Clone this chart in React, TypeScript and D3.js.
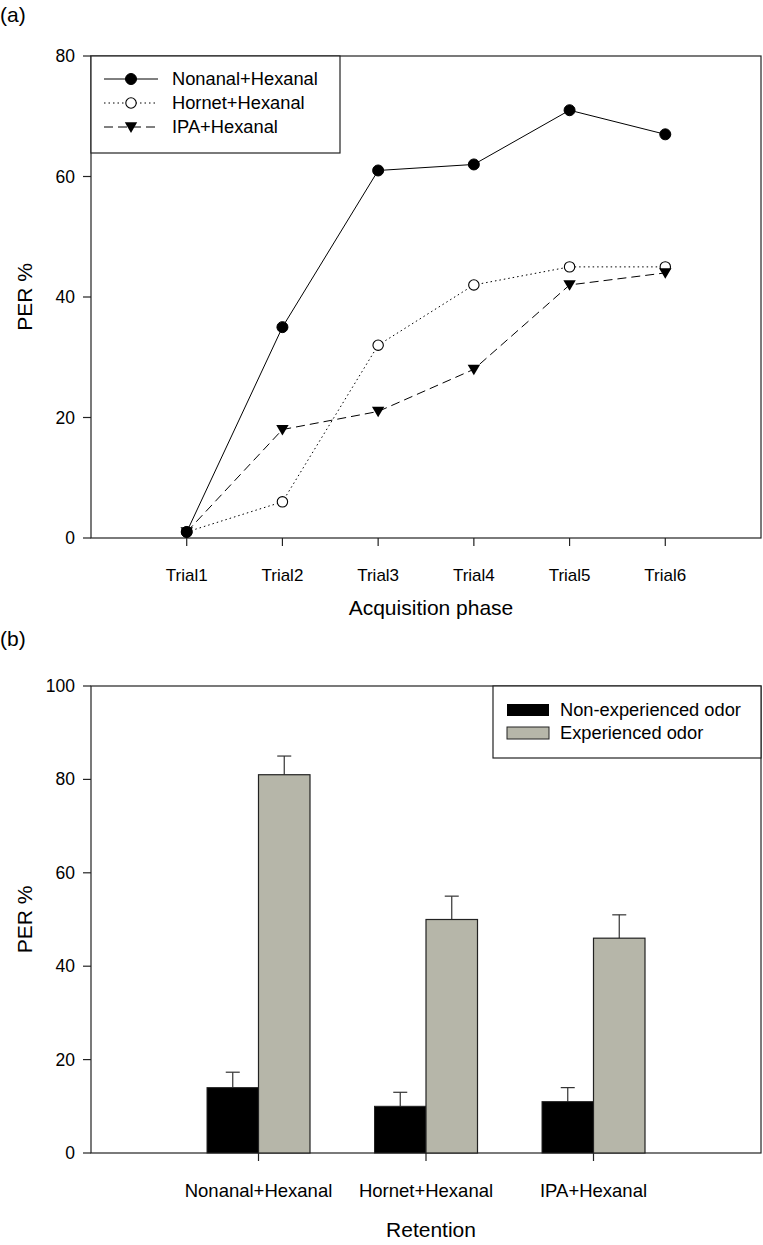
import React from "react";
import * as d3 from "d3";

const trials = ["Trial1", "Trial2", "Trial3", "Trial4", "Trial5", "Trial6"];
const nonanal = [1, 35, 61, 62, 71, 67];
const hornet = [1, 6, 32, 42, 45, 45];
const ipa = [1, 18, 21, 28, 42, 44];
const yTicksA = [0, 20, 40, 60, 80];

const groups = ["Nonanal+Hexanal", "Hornet+Hexanal", "IPA+Hexanal"];
const nonExp = [14, 10, 11];
const nonExpErr = [3.3, 3, 3];
const exp = [81, 50, 46];
const expErr = [4, 5, 5];
const yTicksB = [0, 20, 40, 60, 80, 100];

const FONT = "'Liberation Sans', Arial, Helvetica, sans-serif";
const GRAY = "#b6b6a9";

export default function App() {
  const left = 91;
  const right = 761;
  // Panel a
  const aTop = 56;
  const aBot = 538;
  const xA = d3.scaleLinear().domain([0, 7]).range([left, right]);
  const yA = d3.scaleLinear().domain([0, 80]).range([aBot, aTop]);
  const lineGen = d3
    .line<number>()
    .x((_, i) => xA(i + 1))
    .y((d) => yA(d));

  const series = [
    { name: "Nonanal+Hexanal", data: nonanal, dash: "none", marker: "filled" },
    { name: "Hornet+Hexanal", data: hornet, dash: "1.5,3", marker: "open" },
    { name: "IPA+Hexanal", data: ipa, dash: "9,5", marker: "tri" },
  ];

  const marker = (type: string, cx: number, cy: number, key?: any) => {
    if (type === "filled")
      return <circle key={key} cx={cx} cy={cy} r={5.5} fill="#000" stroke="#000" />;
    if (type === "open")
      return <circle key={key} cx={cx} cy={cy} r={5.2} fill="#fff" stroke="#000" strokeWidth={1.1} />;
    const s = 6.2;
    return (
      <path
        key={key}
        d={`M${cx - s},${cy - s * 0.75} L${cx + s},${cy - s * 0.75} L${cx},${cy + s * 0.95} Z`}
        fill="#000"
      />
    );
  };

  // Panel b
  const bTop = 686;
  const bBot = 1153;
  const xB = d3.scaleLinear().domain([0, 4]).range([left, right]);
  const yB = d3.scaleLinear().domain([0, 100]).range([bBot, bTop]);
  const barW = 51.5;

  return (
    <svg width={763} height={1245} style={{ display: "block", position: "absolute", left: 0, top: 0 }} fontFamily={FONT}>
      <rect width={763} height={1245} fill="#fff" />
      {/* Panel labels */}
      <text x={0} y={22} fontSize={21}>(a)</text>
      <text x={0} y={646} fontSize={21}>(b)</text>

      {/* ---------- Panel a ---------- */}
      <rect x={left} y={aTop} width={right - left} height={aBot - aTop} fill="none" stroke="#222" strokeWidth={1.2} />
      {yTicksA.map((t) => (
        <g key={t}>
          <line x1={left - 8} x2={left} y1={yA(t)} y2={yA(t)} stroke="#222" strokeWidth={1.2} />
          <text x={75} y={yA(t) + 6} fontSize={17.5} textAnchor="end">{t}</text>
        </g>
      ))}
      {trials.map((t, i) => (
        <g key={t}>
          <line x1={xA(i + 1)} x2={xA(i + 1)} y1={aBot} y2={aBot + 8} stroke="#222" strokeWidth={1.2} />
          <text x={xA(i + 1)} y={aBot + 43} fontSize={17} textAnchor="middle">{t}</text>
        </g>
      ))}
      <text x={(left + right) / 2 + 5} y={aBot + 77} fontSize={21} textAnchor="middle">Acquisition phase</text>
      <text transform={`translate(32,${(aTop + aBot) / 2}) rotate(-90)`} fontSize={21} textAnchor="middle">PER %</text>

      {series.map((s) => (
        <g key={s.name}>
          <path d={lineGen(s.data) || ""} fill="none" stroke="#000" strokeWidth={1} strokeDasharray={s.dash} />
        </g>
      ))}
      {[series[1], series[2], series[0]].map((s) => (
        <g key={s.name + "m"}>{s.data.map((v, i) => marker(s.marker, xA(i + 1), yA(v), i))}</g>
      ))}

      {/* legend a */}
      <rect x={left} y={aTop} width={249} height={97} fill="#fff" stroke="#222" strokeWidth={1.2} />
      {series.map((s, i) => {
        const ly = 79 + i * 24;
        return (
          <g key={s.name + "l"}>
            <line x1={104} x2={158} y1={ly} y2={ly} stroke="#000" strokeWidth={1} strokeDasharray={s.dash} />
            {marker(s.marker, 131, ly)}
            <text x={172} y={ly + 6} fontSize={18.3}>{s.name}</text>
          </g>
        );
      })}

      {/* ---------- Panel b ---------- */}
      <rect x={left} y={bTop} width={right - left} height={bBot - bTop} fill="none" stroke="#222" strokeWidth={1.2} />
      {yTicksB.map((t) => (
        <g key={t}>
          <line x1={left - 8} x2={left} y1={yB(t)} y2={yB(t)} stroke="#222" strokeWidth={1.2} />
          <text x={75} y={yB(t) + 6} fontSize={17.5} textAnchor="end">{t}</text>
        </g>
      ))}
      {groups.map((g, i) => {
        const cx = xB(i + 1);
        return (
          <g key={g}>
            <line x1={cx - barW / 2} x2={cx - barW / 2} y1={yB(nonExp[i])} y2={yB(nonExp[i] + nonExpErr[i])} stroke="#333" strokeWidth={1.2} />
            <line x1={cx - barW / 2 - 7} x2={cx - barW / 2 + 7} y1={yB(nonExp[i] + nonExpErr[i])} y2={yB(nonExp[i] + nonExpErr[i])} stroke="#333" strokeWidth={1.2} />
            <line x1={cx + barW / 2} x2={cx + barW / 2} y1={yB(exp[i])} y2={yB(exp[i] + expErr[i])} stroke="#333" strokeWidth={1.2} />
            <line x1={cx + barW / 2 - 7} x2={cx + barW / 2 + 7} y1={yB(exp[i] + expErr[i])} y2={yB(exp[i] + expErr[i])} stroke="#333" strokeWidth={1.2} />
            <rect x={cx - barW} y={yB(nonExp[i])} width={barW} height={yB(0) - yB(nonExp[i])} fill="#000" stroke="#222" strokeWidth={1} />
            <rect x={cx} y={yB(exp[i])} width={barW} height={yB(0) - yB(exp[i])} fill={GRAY} stroke="#222" strokeWidth={1.2} />
            <line x1={cx} x2={cx} y1={bBot} y2={bBot + 8} stroke="#222" strokeWidth={1.2} />
            <text x={cx} y={bBot + 44} fontSize={18.5} textAnchor="middle">{g}</text>
          </g>
        );
      })}
      <text x={(left + right) / 2 + 5} y={bBot + 84} fontSize={21} textAnchor="middle">Retention</text>
      <text transform={`translate(32,${(bTop + bBot) / 2}) rotate(-90)`} fontSize={21} textAnchor="middle">PER %</text>

      {/* legend b */}
      <rect x={493} y={bTop} width={right - 493} height={72} fill="#fff" stroke="#222" strokeWidth={1.2} />
      <rect x={507} y={704} width={42} height={12} fill="#000" />
      <text x={560} y={716} fontSize={18.3}>Non-experienced odor</text>
      <rect x={507} y={727} width={42} height={12} fill={GRAY} stroke="#222" strokeWidth={1} />
      <text x={560} y={739} fontSize={18.3}>Experienced odor</text>
    </svg>
  );
}
